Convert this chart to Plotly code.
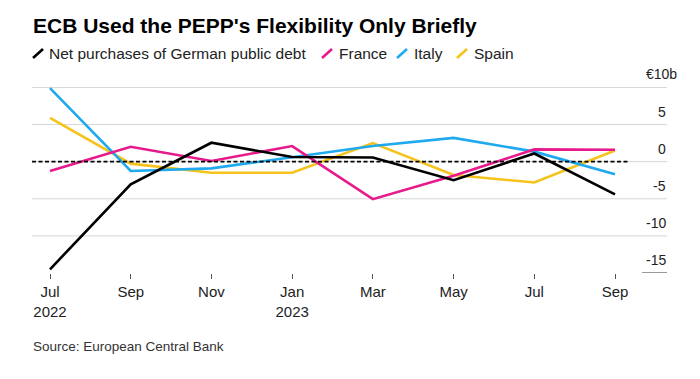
import plotly.graph_objects as go

# ---- data ----
months = ["Jul<br>2022", "Sep", "Nov", "Jan<br>2023", "Mar", "May", "Jul", "Sep"]
germany = [-14.5, -3.05, 2.55, 0.63, 0.55, -2.5, 1.1, -4.4]
france = [-1.25, 2.0, 0.1, 2.1, -5.05, -1.9, 1.65, 1.6]
italy = [9.9, -1.25, -0.9, 0.6, 2.1, 3.2, 1.35, -1.7]
spain = [5.9, -0.27, -1.5, -1.5, 2.5, -1.8, -2.8, 1.5]
y_tickvals = [-15, -10, -5, 0, 5, 10]
y_ticktext = ["-15", "-10", "-5", "0", "5", "€10b"]
grid_vals = [-10, -5, 0, 5, 10]

series = [
    ("Net purchases of German public debt", germany, "#000000"),
    ("France", france, "#e8198b"),
    ("Italy", italy, "#1fa9ee"),
    ("Spain", spain, "#f5c31c"),
]

FONT = "Liberation Sans, Arial, sans-serif"
W, H = 700, 379
L, R, T, B = 32, 33, 80, 106
PW, PH = W - L - R, H - T - B
xpos = list(range(len(months)))


def px(x):
    return (x - L) / PW


def py(y):
    return (H - B - y) / PH


fig = go.Figure()
for name, vals, color in reversed(series):
    fig.add_trace(go.Scatter(
        x=xpos, y=vals, mode="lines", name=name,
        line=dict(color=color, width=2.6),
        showlegend=False, hoverinfo="skip",
    ))

shapes = []
for g in grid_vals:
    shapes.append(dict(type="line", xref="paper", yref="y", x0=0, x1=1, y0=g, y1=g,
                       line=dict(color="#d6d6d6", width=1), layer="below"))
shapes.append(dict(type="line", xref="paper", yref="y", x0=px(642), x1=1, y0=-15, y1=-15,
                   line=dict(color="#333333", width=1), layer="below"))
shapes.append(dict(type="line", xref="paper", yref="y", x0=0, x1=px(630), y0=0, y1=0,
                   line=dict(color="#000000", width=1.6, dash="4px,2.5px"), layer="above"))

annotations = [
    dict(text="<b>ECB Used the PEPP's Flexibility Only Briefly</b>", xref="paper", yref="paper",
         x=px(31), y=py(25), xanchor="left", yanchor="middle", showarrow=False,
         font=dict(family=FONT, size=21, color="#000000")),
    dict(text="Source: European Central Bank", xref="paper", yref="paper",
         x=px(31), y=py(346), xanchor="left", yanchor="middle", showarrow=False,
         font=dict(family=FONT, size=13.5, color="#333333")),
]

# y-axis labels sit just above their gridlines on the right
for v, t in zip(y_tickvals, y_ticktext):
    annotations.append(dict(text=t, xref="paper", yref="y",
                            x=px(679) if t.startswith("€") else px(668), y=v,
                            xanchor="right", yanchor="bottom", yshift=3, showarrow=False,
                            font=dict(family=FONT, size=14, color="#222222")))

legend_pos = [(33, 47), (322, 337), (397, 412), (457, 472)]
for (name, vals, color), (ix, tx) in zip(series, legend_pos):
    shapes.append(dict(type="line", xref="paper", yref="paper",
                       x0=px(ix), x1=px(ix + 10), y0=py(58), y1=py(49),
                       line=dict(color=color, width=2.6)))
    annotations.append(dict(text=name, xref="paper", yref="paper", x=px(tx), y=py(53.5),
                            xanchor="left", yanchor="middle", showarrow=False,
                            font=dict(family=FONT, size=15.5, color="#222222")))

fig.update_layout(
    width=W, height=H,
    margin=dict(l=L, r=R, t=T, b=B),
    paper_bgcolor="white", plot_bgcolor="white",
    shapes=shapes, annotations=annotations,
    showlegend=False,
    xaxis=dict(
        range=[-0.223, 7.644], tickvals=xpos, ticktext=months,
        showgrid=False, zeroline=False, showline=False,
        ticks="outside", ticklen=5, tickwidth=1, tickcolor="#555555",
        tickfont=dict(family=FONT, size=15, color="#222222"),
        fixedrange=True,
    ),
    yaxis=dict(
        range=[-15, 11], side="right",
        showticklabels=False,
        showgrid=False, zeroline=False, showline=False, ticks="",
        fixedrange=True,
    ),
)

fig.write_html("out.html", config={"displayModeBar": False},
               post_script="document.body.style.margin='0';")
